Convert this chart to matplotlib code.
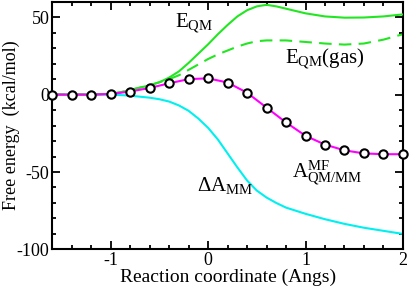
import numpy as np
import matplotlib
matplotlib.use("Agg")
import matplotlib.pyplot as plt
from matplotlib.ticker import MultipleLocator

plt.rcParams['font.family'] = ['Liberation Serif', 'DejaVu Serif']
plt.rcParams['mathtext.fontset'] = 'custom'
plt.rcParams['mathtext.rm'] = 'Liberation Serif'
plt.rcParams['mathtext.it'] = 'Liberation Serif:italic'
plt.rcParams['axes.unicode_minus'] = False

# A_QM/MM^MF (circles, every 0.2)
x_mf = [-1.6, -1.4, -1.2, -1.0, -0.8, -0.6, -0.4, -0.2, 0.0, 0.2,
        0.4, 0.6, 0.8, 1.0, 1.2, 1.4, 1.6, 1.8, 2.0]
a_mf = [0.0, 0.0, 0.0, 0.4, 2.0, 4.3, 7.3, 10.0, 10.5, 7.8,
        1.2, -8.4, -18.0, -26.6, -32.3, -36.0, -38.0, -38.5, -38.5]

# E_QM (solid green)
x_eqm = [-1.6, -1.2, -1.0, -0.9, -0.8, -0.7, -0.6, -0.5, -0.4, -0.3, -0.2, -0.1,
         0.0, 0.1, 0.2, 0.3, 0.4, 0.5, 0.6, 0.7, 0.8, 0.9, 1.0, 1.2, 1.4, 1.6, 1.8, 2.0]
e_qm = [0.0, 0.0, 0.5, 1.5, 3.0, 4.5, 6.0, 8.0, 11.0, 15.0, 20.5, 26.5,
        32.5, 39.0, 45.0, 50.5, 54.5, 57.0, 58.0, 57.0, 55.5, 54.0, 52.5, 50.5, 49.7, 49.8, 50.5, 51.8]

# E_QM(gas) (dashed green)
x_gas = [-1.6, -1.2, -1.0, -0.9, -0.8, -0.7, -0.6, -0.5, -0.4, -0.3, -0.2, -0.1,
         0.0, 0.1, 0.2, 0.3, 0.4, 0.5, 0.6, 0.8, 1.0, 1.2, 1.4, 1.6, 1.8, 2.0]
e_gas = [0.0, 0.0, 0.5, 1.5, 3.0, 4.5, 6.0, 8.0, 10.0, 12.5, 16.0, 19.5,
         23.0, 26.0, 28.5, 31.0, 33.0, 34.5, 35.0, 35.0, 34.0, 33.0, 32.3, 33.0, 35.5, 39.0]

# Delta A_MM (cyan)
x_mm = [-1.6, -1.0, -0.9, -0.8, -0.6, -0.5, -0.4, -0.3, -0.2, -0.1, 0.0, 0.1, 0.2,
        0.3, 0.4, 0.5, 0.6, 0.7, 0.8, 1.0, 1.2, 1.4, 1.6, 1.8, 2.0]
da_mm = [0.0, 0.0, -0.3, -0.7, -2.0, -3.0, -4.5, -7.0, -10.5, -15.5, -21.5, -29.0, -38.0,
         -47.0, -55.5, -62.0, -66.5, -70.0, -73.0, -77.0, -80.5, -83.5, -86.0, -88.0, -90.0]

fig = plt.figure(figsize=(4.09, 2.87), dpi=100)
ax = fig.add_axes([0.128, 0.131, 0.857, 0.863])

green = '#22e622'
ax.plot(x_mm, da_mm, color='#00f0f0', lw=1.5, zorder=2)
ax.plot(x_gas, e_gas, color=green, lw=1.5, ls=(0, (6, 3.5)), zorder=2)
ax.plot(x_eqm, e_qm, color=green, lw=1.5, zorder=3)
ax.plot(x_mf, a_mf, color='#ff00ff', lw=1.5, zorder=4)
ax.plot(x_mf, a_mf, ls='none', marker='o', ms=6, mfc='white', mec='black',
        mew=1.5, zorder=5, clip_on=False)

ax.set_xlim(-1.6, 2.0)
ax.set_ylim(-100, 60)
ax.xaxis.set_major_locator(MultipleLocator(1))
ax.xaxis.set_minor_locator(MultipleLocator(0.2))
ax.yaxis.set_major_locator(MultipleLocator(50))
ax.yaxis.set_minor_locator(MultipleLocator(10))
ax.tick_params(which='both', direction='in', top=True, right=True, width=1.3,
               labelsize=13, pad=2)
ax.tick_params(which='major', length=6)
ax.tick_params(which='minor', length=3)
for s in ax.spines.values():
    s.set_linewidth(1.5)

ax.set_xlabel('Reaction coordinate (Angs)', fontsize=14, labelpad=0)
ax.set_ylabel('Free energy  (kcal/mol)', fontsize=13)
ax.yaxis.set_label_coords(-0.092, 0.5)

ax.text(-0.34, 43.4, r'E$_{\rm QM}$', fontsize=15)
ax.text(0.79, 20, r'E$_{\rm QM}$(gas)', fontsize=15)
ax.text(-0.11, -62, r'$\Delta$A$_{\rm MM}$', fontsize=15)
ax.text(0.86, -54, r'A$^{\rm MF}_{\rm QM/MM}$', fontsize=15)

fig.savefig('out.png', dpi=100)
